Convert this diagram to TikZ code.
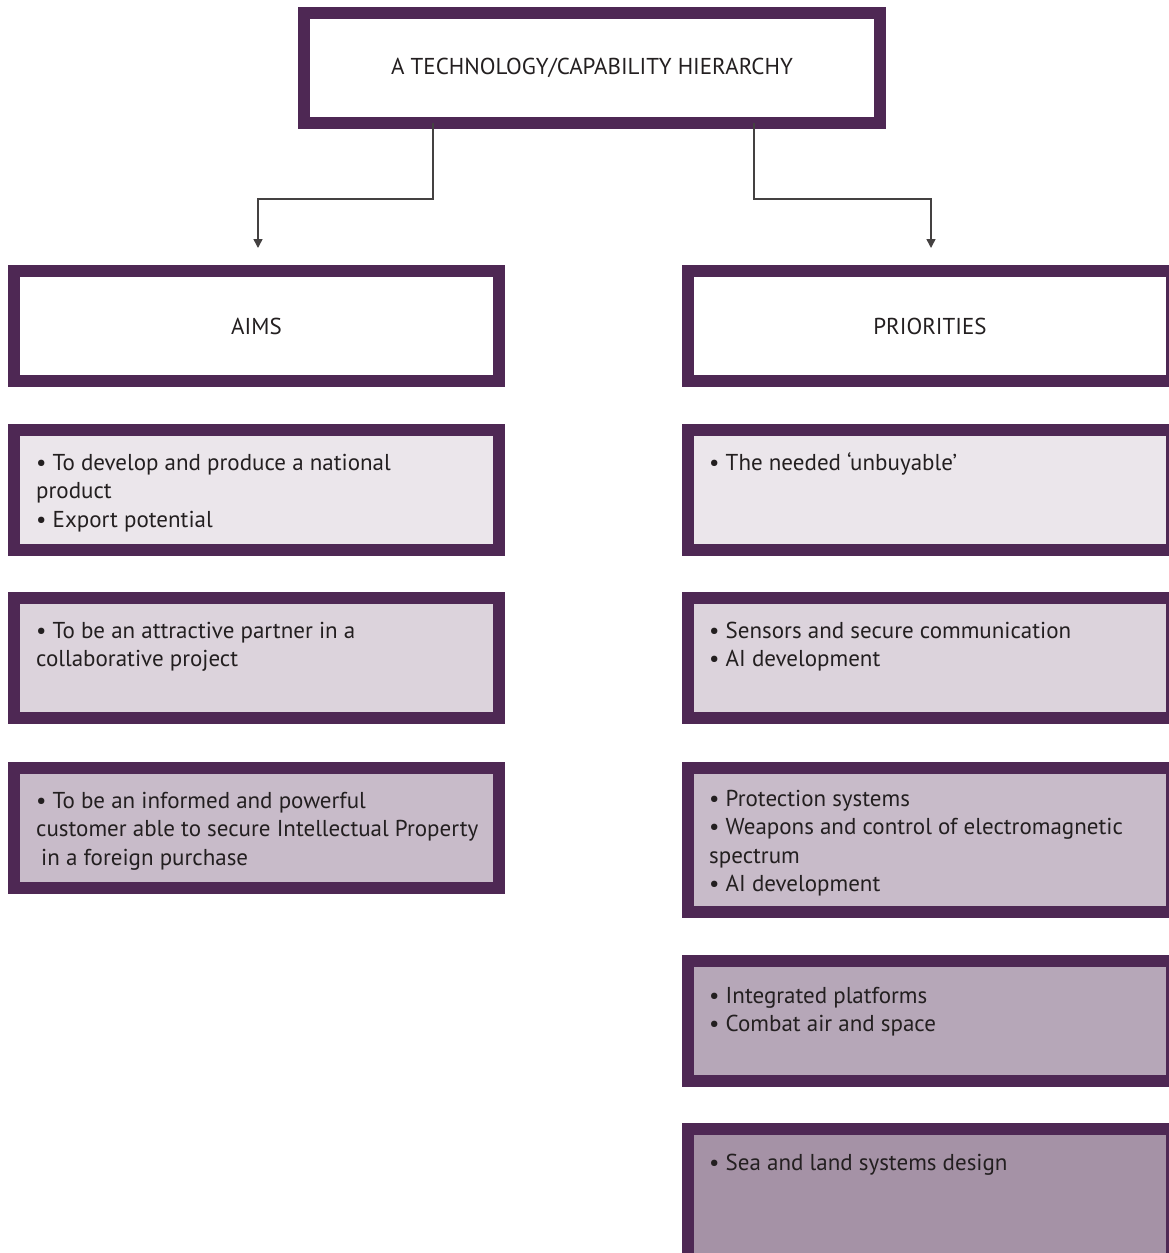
\documentclass[tikz,border=0pt]{standalone}
\usepackage{fontspec}
\setmainfont{PT Sans}
\usetikzlibrary{arrows.meta}
\definecolor{frame}{HTML}{4E2854}
\definecolor{ink}{HTML}{231F20}
\definecolor{fillA}{HTML}{EBE6EB}
\definecolor{fillB}{HTML}{DCD3DC}
\definecolor{fillC}{HTML}{C8BBC9}
\definecolor{fillD}{HTML}{B6A7B8}
\definecolor{fillE}{HTML}{A592A6}
\tikzset{
  boxstyle/.style={draw=frame, line width=12pt, inner sep=0pt, outer sep=0pt},
  txt/.style={anchor=base west, inner sep=0pt, text=ink,
    font=\fontsize{23pt}{28.5pt}\selectfont},
  head/.style={text=ink, inner sep=0pt, font=\fontsize{23pt}{28.5pt}\selectfont},
  conn/.style={draw=ink!85, line width=1.5pt, -{Triangle[width=9pt,length=9pt]}}
}
\newcommand\mybox[6]{%
  \node[boxstyle, fill=#6, minimum width={(#4-#2-12)*1pt}, minimum height={(#5-#3-12)*1pt}]
    (#1) at ({(#2+#4)/2},{(#3+#5)/2}) {};}
\newcommand\lines[1]{\parbox[t]{460pt}{\raggedright #1}}
\begin{document}
\begin{tikzpicture}[x=1pt,y=-1pt]
\useasboundingbox[fill=white] (0,0) rectangle (1169,1253);
\begin{scope}
\clip (0,0) rectangle (1169,1253);
% boxes
\mybox{top}{298}{7}{886}{129}{white}
\mybox{aims}{8}{265}{505}{387}{white}
\mybox{a1}{8}{424}{505}{556}{fillA}
\mybox{a2}{8}{592}{505}{724}{fillB}
\mybox{a3}{8}{762}{505}{894}{fillC}
\mybox{prio}{682}{265}{1178}{387}{white}
\mybox{p1}{682}{424}{1178}{556}{fillA}
\mybox{p2}{682}{592}{1178}{724}{fillB}
\mybox{p3}{682}{762}{1178}{918}{fillC}
\mybox{p4}{682}{955}{1178}{1087}{fillD}
\mybox{p5}{682}{1123}{1178}{1265}{fillE}
\end{scope}
% headings
\node[head] (ttop) at (top.center) {A TECHNOLOGY/CAPABILITY HIERARCHY};
\node[head] (taims) at (aims.center) {AIMS};
\node[head] (tprio) at (prio.center) {PRIORITIES};
% body texts
\node[txt] (ta1) at (36,470) {\lines{• To develop and produce a national\\product\\• Export potential}};
\node[txt] (ta2) at (36,638) {\lines{• To be an attractive partner in a\\collaborative project}};
\node[txt] (ta3) at (36,808) {\lines{• To be an informed and powerful\\customer able to secure Intellectual Property\\\hspace*{5pt}in a foreign purchase}};
\node[txt] (tp1) at (709,470) {\lines{• The needed ‘unbuyable’}};
\node[txt] (tp2) at (709,638) {\lines{• Sensors and secure communication\\• AI development}};
\node[txt] (tp3) at (709,806) {\lines{• Protection systems\\• Weapons and control of electromagnetic\\spectrum\\• AI development}};
\node[txt] (tp4) at (709,1003) {\lines{• Integrated platforms\\• Combat air and space}};
\node[txt] (tp5) at (709,1170) {\lines{• Sea and land systems design}};
% connectors
\coordinate (ltip) at (258,248);
\coordinate (rtip) at (931,248);
\draw[conn] ([xshift=-159pt]top.south) -- ++(0,76) -| (ltip);
\draw[conn] ([xshift=162pt]top.south) -- ++(0,76) -| (rtip);
\end{tikzpicture}
\end{document}
